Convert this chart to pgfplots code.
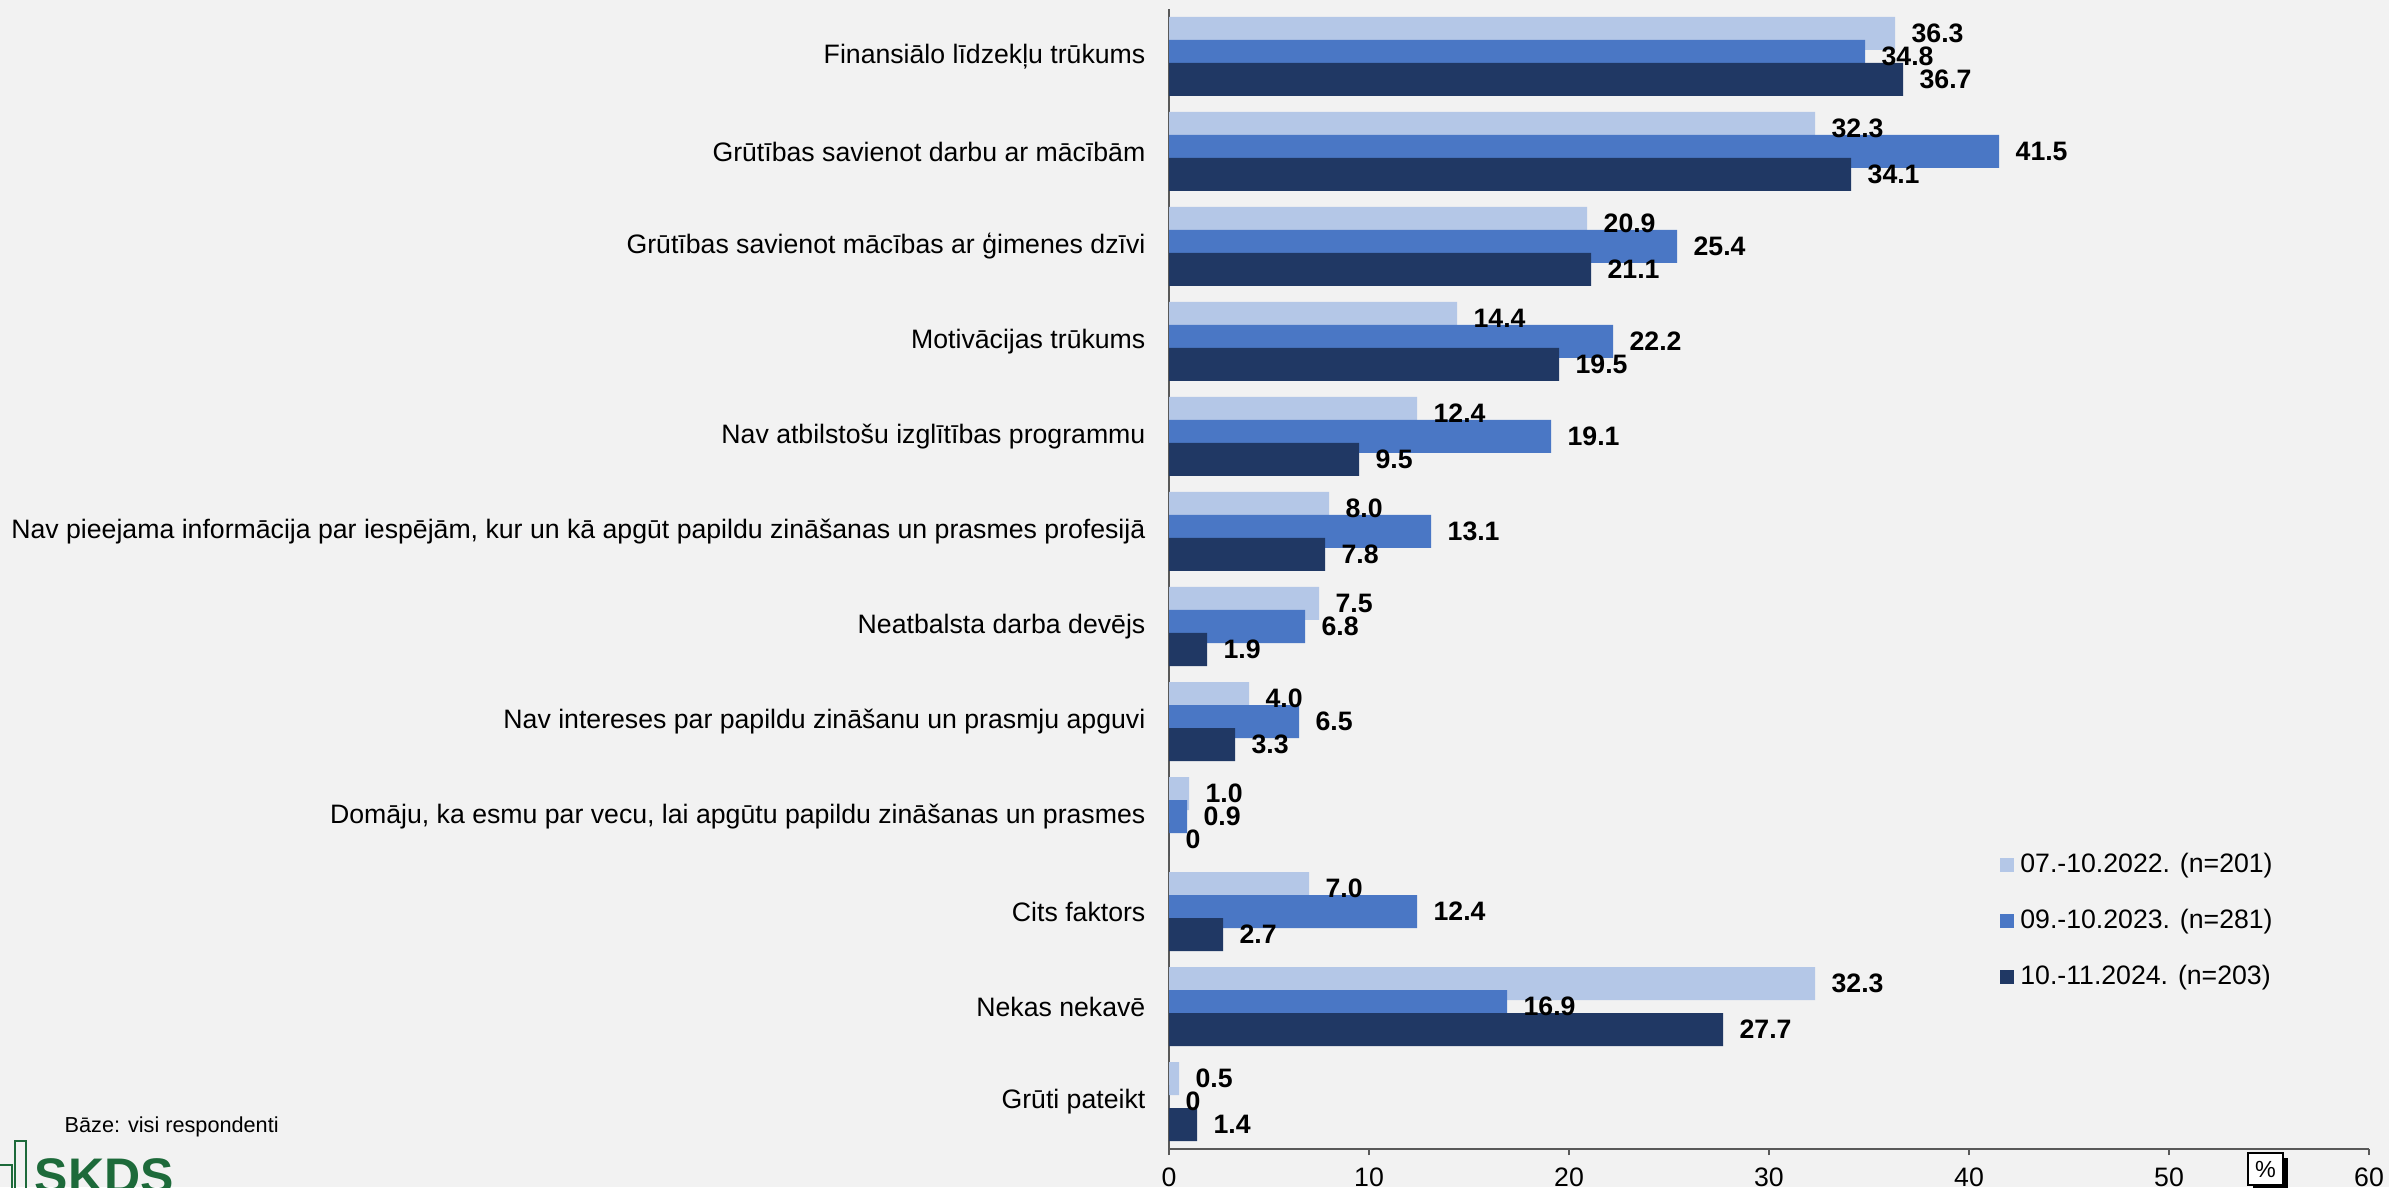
\documentclass[border=0pt]{standalone}
\usepackage{pgfplots}
\usepackage{pgfplotstable}
\pgfplotsset{compat=1.18}
\usepackage{fontspec}
\setmainfont{Liberation Sans}
\definecolor{bgcol}{HTML}{F2F2F2}
\definecolor{cA}{HTML}{B4C7E7}
\definecolor{cB}{HTML}{4A77C5}
\definecolor{cC}{HTML}{203864}
\definecolor{logogreen}{HTML}{1D6A3A}
\definecolor{axcol}{HTML}{595959}

% y: 11 = top category, 0 = bottom category
\pgfplotstableread{
y x lab
11 36.3 36.3
10 32.3 32.3
9 20.9 20.9
8 14.4 14.4
7 12.4 12.4
6 8.0 8.0
5 7.5 7.5
4 4.0 4.0
3 1.0 1.0
2 7.0 7.0
1 32.3 32.3
0 0.5 0.5
}\tblA
\pgfplotstableread{
y x lab
11 34.8 34.8
10 41.5 41.5
9 25.4 25.4
8 22.2 22.2
7 19.1 19.1
6 13.1 13.1
5 6.8 6.8
4 6.5 6.5
3 0.9 0.9
2 12.4 12.4
1 16.9 16.9
0 0 0
}\tblB
\pgfplotstableread{
y x lab
11 36.7 36.7
10 34.1 34.1
9 21.1 21.1
8 19.5 19.5
7 9.5 9.5
6 7.8 7.8
5 1.9 1.9
4 3.3 3.3
3 0 0
2 2.7 2.7
1 27.7 27.7
0 1.4 1.4
}\tblC

\newcommand{\lblfont}{\fontsize{8}{9.6}\selectfont}

\begin{document}
\begin{tikzpicture}
\fill[bgcol, use as bounding box] (0pt,0pt) rectangle (716.7pt,356.1pt);

\begin{axis}[
    at={(350.7pt,11.4pt)}, anchor=south west,
    scale only axis, width=360pt, height=342pt,
    xbar, bar width=9.9pt,
    xmin=0, xmax=60, ymin=-0.5, ymax=11.5,
    xtick={0,10,...,60},
    ytick={0,...,11},
    yticklabels={Grūti pateikt, Nekas nekavē, Cits faktors,
      {Domāju, ka esmu par vecu, lai apgūtu papildu zināšanas un prasmes},
      Nav intereses par papildu zināšanu un prasmju apguvi,
      Neatbalsta darba devējs,
      {Nav pieejama informācija par iespējām, kur un kā apgūt papildu zināšanas un prasmes profesijā},
      Nav atbilstošu izglītības programmu,
      Motivācijas trūkums,
      Grūtības savienot mācības ar ģimenes dzīvi,
      Grūtības savienot darbu ar mācībām,
      Finansiālo līdzekļu trūkums},
    axis x line*=bottom, axis y line*=left,
    axis line style={axcol, line width=0.5pt},
    tick align=outside, major tick length=1.8pt,
    x tick style={axcol, line width=0.5pt},
    y tick style={draw=none},
    xticklabel style={font=\lblfont, inner sep=0pt, yshift=-3.6pt},
    yticklabel style={font=\lblfont, inner sep=0pt, xshift=-5.1pt},
    /pgf/number format/assume math mode=true,
    point meta=explicit symbolic,
    nodes near coords,
    every node near coord/.append style={font=\bfseries\lblfont, anchor=west, inner sep=0pt, xshift=4.8pt},
    legend style={at={(0.6917,0.266)}, anchor=north west, draw=none, fill=none,
      font=\lblfont, row sep=5.5pt, inner sep=0pt},
    legend cell align=left,
    clip=false,
]
\addplot[fill=cA, draw=none, bar shift=6.9pt,
  legend image code/.code={\fill[cA] (0pt,-2.1pt) rectangle (4.2pt,2.1pt);}]
  table[x=x, y=y, meta=lab] {\tblA};
\addplot[fill=cB, draw=none, bar shift=0pt,
  legend image code/.code={\fill[cB] (0pt,-2.1pt) rectangle (4.2pt,2.1pt);}]
  table[x=x, y=y, meta=lab] {\tblB};
\addplot[fill=cC, draw=none, bar shift=-6.9pt,
  legend image code/.code={\fill[cC] (0pt,-2.1pt) rectangle (4.2pt,2.1pt);}]
  table[x=x, y=y, meta=lab] {\tblC};
\legend{07.-10.2022. (n=201), 09.-10.2023. (n=281), 10.-11.2024. (n=203)}
\end{axis}

% percent box with shadow
\fill[black] (675.9pt,-0.9pt) rectangle (686.4pt,8.7pt);
\filldraw[fill=white, draw=black, line width=0.4pt] (674.4pt,0.6pt) rectangle (684.9pt,10.2pt);
\node[font=\fontsize{7}{8}\selectfont, inner sep=0pt] at (679.65pt,5.4pt) {\%};

% base note and logo
\node[anchor=base west, inner sep=0pt, font=\fontsize{6.5}{7.8}\selectfont] at (19.2pt,16.5pt) {Bāze: visi respondenti};
\draw[logogreen, line width=0.4pt] (-1pt,-2pt) rectangle (3.6pt,6.6pt);
\draw[logogreen, line width=0.4pt] (4.5pt,-2pt) rectangle (7.8pt,13.8pt);
\node[anchor=north west, inner sep=0pt, text=logogreen, font=\bfseries\fontsize{15}{18}\selectfont] at (10.2pt,8.6pt) {SKDS};
\end{tikzpicture}
\end{document}
